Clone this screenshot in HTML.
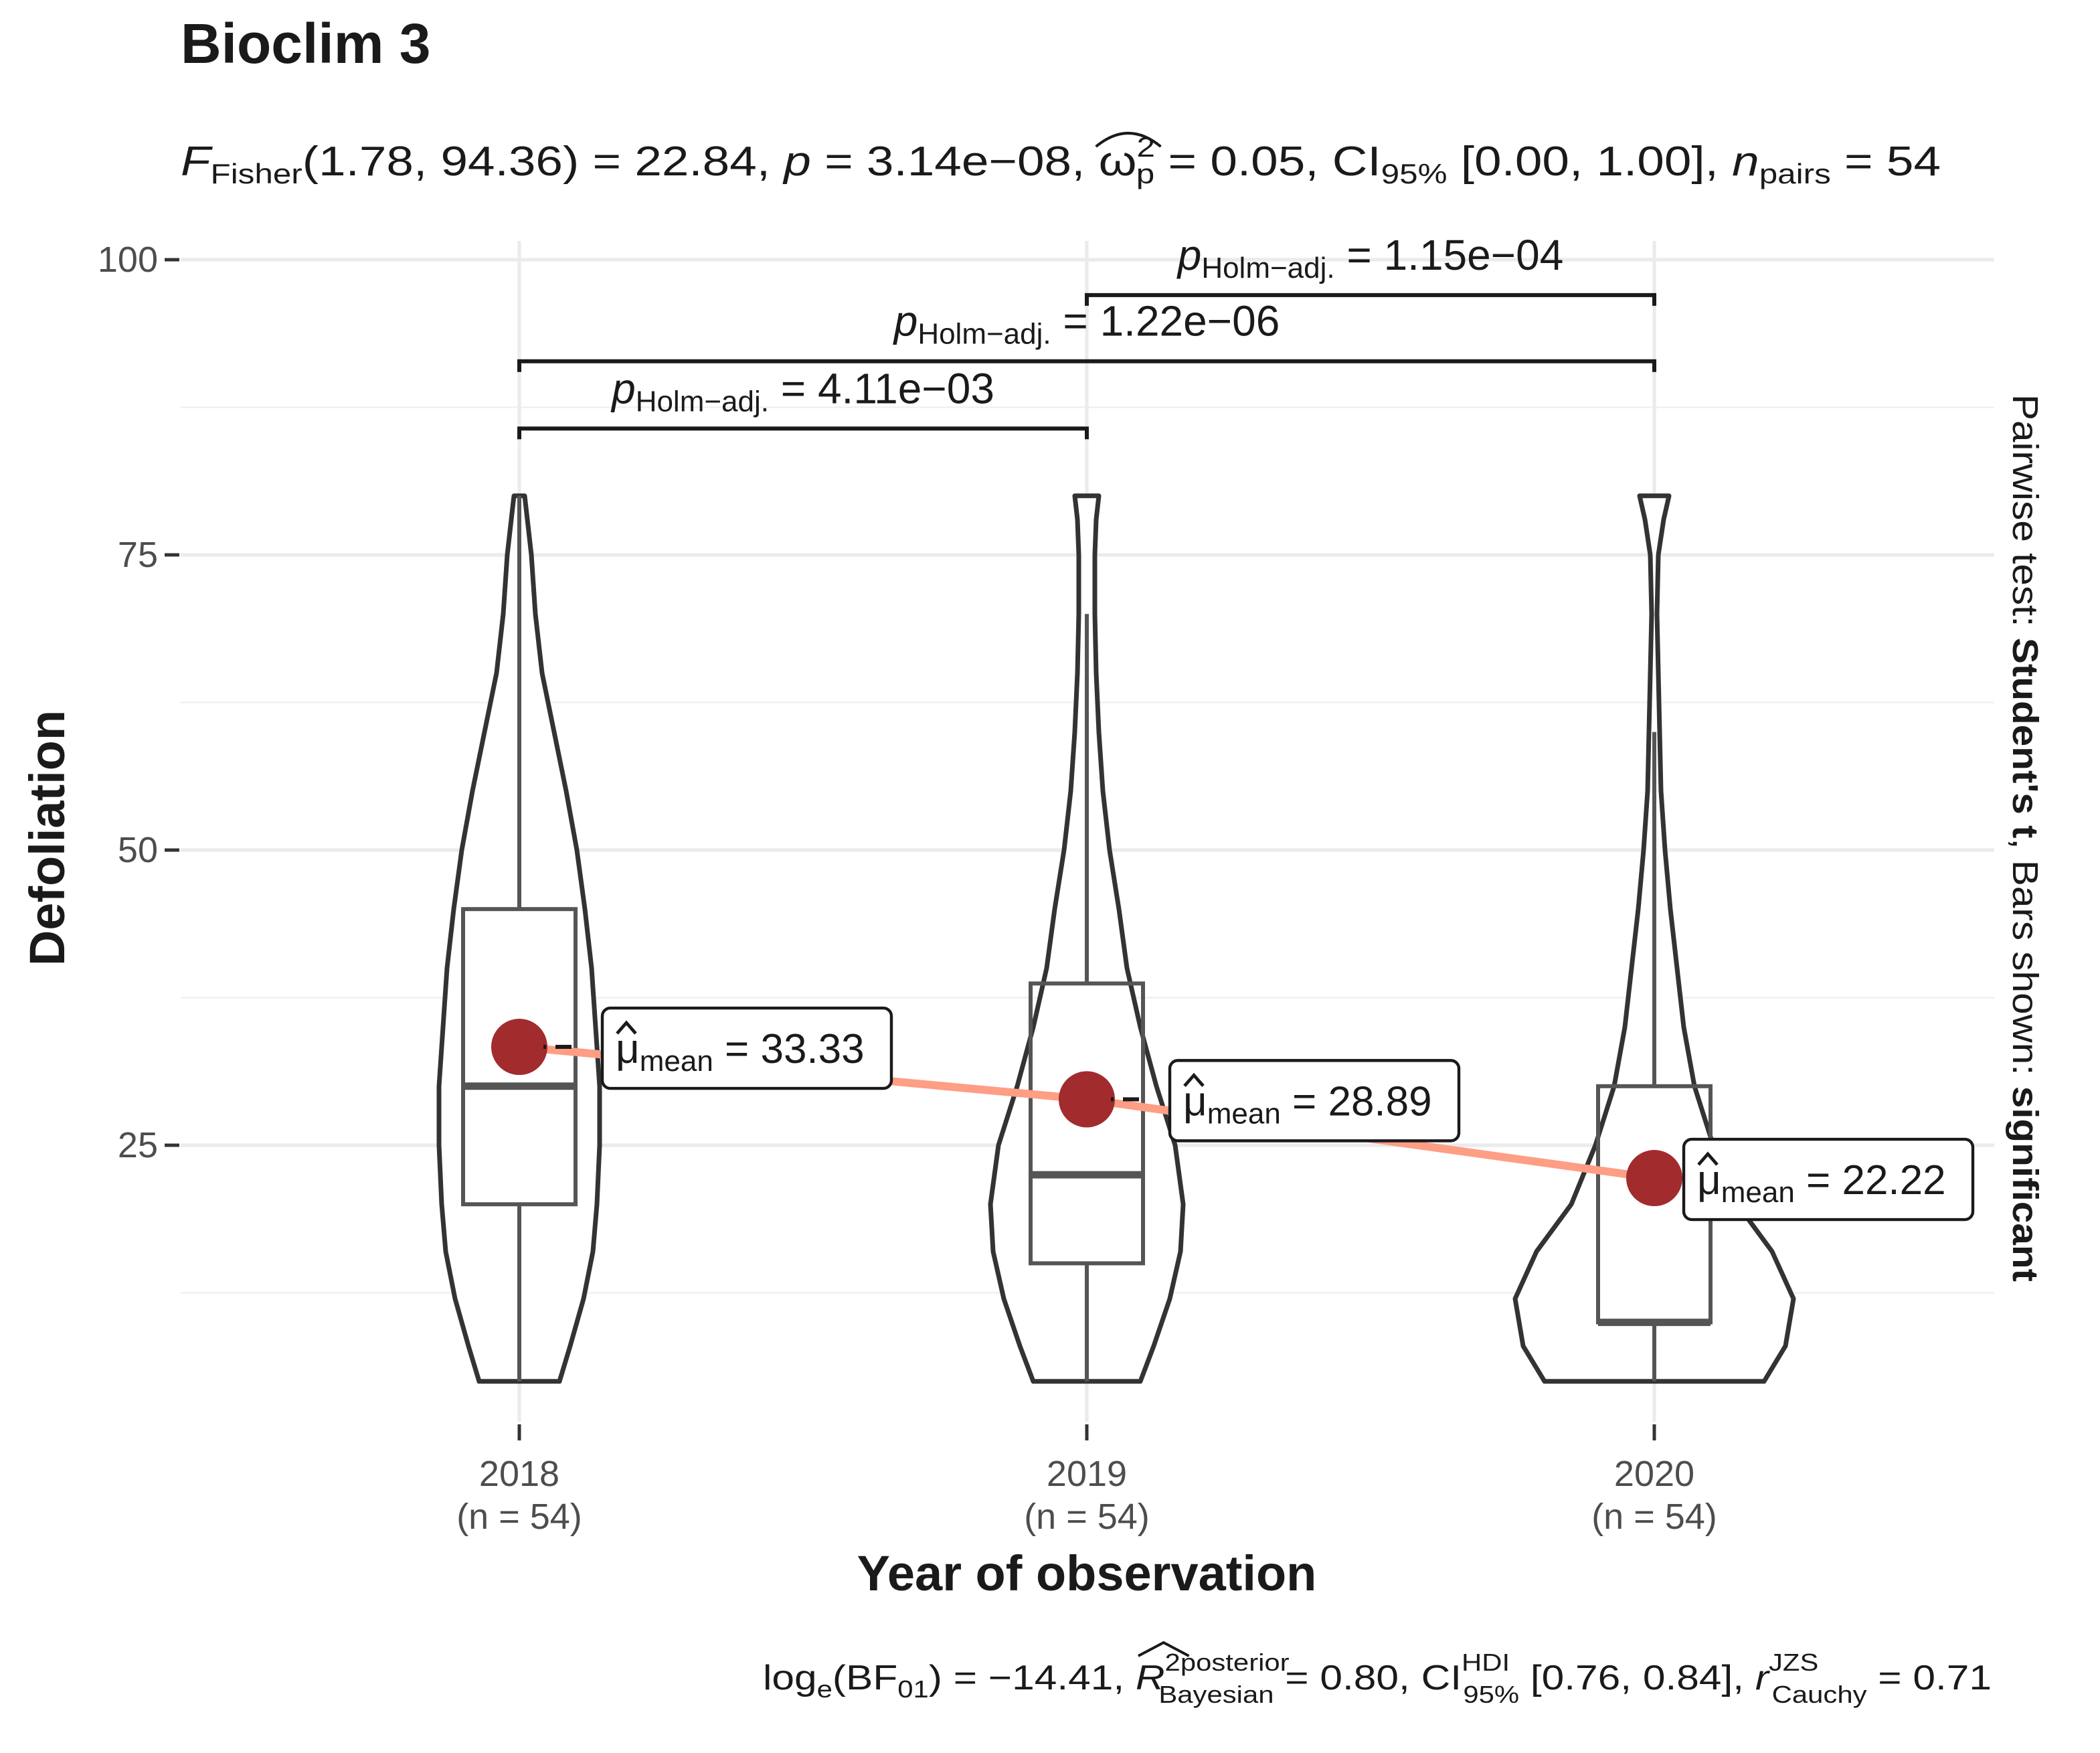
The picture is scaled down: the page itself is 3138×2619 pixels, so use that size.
<!DOCTYPE html>
<html><head><meta charset="utf-8">
<style>
html,body{margin:0;padding:0;background:#fff;}
svg{display:block;font-family:"Liberation Sans",Arial,sans-serif;}
</style></head>
<body>
<svg id="chart" width="3138" height="2619" viewBox="0 0 1569 1309.5" xmlns="http://www.w3.org/2000/svg">
<rect width="1569" height="1309.5" fill="#fff"/>
<text x="135" y="47" font-size="42" font-weight="bold" fill="#1a1a1a">Bioclim 3</text>
<text x="135" y="131" font-size="31" fill="#1a1a1a" textLength="1315" lengthAdjust="spacingAndGlyphs"><tspan font-style="italic">F</tspan><tspan font-size="21" dy="6">Fisher</tspan><tspan dy="-6">(1.78, 94.36) = 22.84, </tspan><tspan font-style="italic">p</tspan><tspan> = 3.14e−08, </tspan><tspan id="omega">ω</tspan><tspan font-size="21" dy="-14">2</tspan><tspan font-size="21" dy="20" dx="-12">p</tspan><tspan dy="-6"> = 0.05, CI</tspan><tspan font-size="21" dy="6">95%</tspan><tspan dy="-6"> [0.00, 1.00], </tspan><tspan font-style="italic">n</tspan><tspan font-size="21" dy="6">pairs</tspan><tspan dy="-6"> = 54</tspan></text>
<path id="omegahat" d="" fill="none" stroke="#1a1a1a" stroke-width="2"/>
<g id="grid"></g>
<g id="axes"></g>
<g id="marks"></g>
<text transform="translate(48,626) rotate(-90)" text-anchor="middle" font-size="37" font-weight="bold" fill="#1a1a1a">Defoliation</text>
<text x="812" y="1188" text-anchor="middle" font-size="37" font-weight="bold" fill="#1a1a1a">Year of observation</text>
<text transform="translate(1504,626) rotate(90)" text-anchor="middle" font-size="27" fill="#1a1a1a" textLength="663" lengthAdjust="spacingAndGlyphs">Pairwise test: <tspan font-weight="bold">Student's t</tspan>, Bars shown: <tspan font-weight="bold">significant</tspan></text>
<text x="570" y="1262" font-size="26" fill="#1a1a1a" textLength="918" lengthAdjust="spacingAndGlyphs">log<tspan font-size="18" dy="6">e</tspan><tspan dy="-6">(BF</tspan><tspan font-size="18" dy="6">01</tspan><tspan dy="-6">) = −14.41, </tspan><tspan id="rr" font-style="italic">R</tspan><tspan font-size="18" dy="-14">2</tspan><tspan font-size="18">posterior</tspan><tspan font-size="18" dy="24" dx="-84">Bayesian</tspan><tspan dy="-10"> = 0.80, CI</tspan><tspan font-size="18" dy="-14">HDI</tspan><tspan font-size="18" dy="24" dx="-30">95%</tspan><tspan dy="-10"> [0.76, 0.84], </tspan><tspan font-style="italic">r</tspan><tspan font-size="18" dy="-14">JZS</tspan><tspan font-size="18" dy="24" dx="-30">Cauchy</tspan><tspan dy="-10"> = 0.71</tspan></text>
<path id="rhat" d="" fill="none" stroke="#1a1a1a" stroke-width="2"/>
</svg>
<script>
const years = ["2018","2019","2020"];
const nLabels = ["(n = 54)","(n = 54)","(n = 54)"];
const means = [33.33, 28.89, 22.22];
const meanLabels = ["33.33","28.89","22.22"];
const q1 = [20, 15, 10];
const med = [30, 22.5, 10];
const q3 = [45, 38.7, 30];
const whiskLo = [5, 5, 5];
const whiskHi = [80, 70, 60];
const violinLevels = [5, 8, 12, 16, 20, 25, 30, 35, 40, 45, 50, 55, 60, 65, 70, 75, 78, 80];
const violin2018 = [30, 38, 48, 55, 58, 60, 60, 57, 54, 49, 43, 35, 26, 17, 12, 9, 6, 4];
const violin2019 = [40, 50, 62, 70, 72, 66, 52, 40, 30, 24, 17, 12, 9, 7, 6, 6, 7, 9];
const violin2020 = [82, 98, 104, 88, 62, 44, 30, 22, 17, 12, 8, 5, 4, 3, 2, 3, 7, 11];
const yTicks = [25, 50, 75, 100];
const yMinor = [12.5, 37.5, 62.5, 87.5];
const pairs = [[0,1],[0,2],[1,2]];
const pairBarVals = [85.7, 91.4, 97];
const pairLabels = ["4.11e−03","1.22e−06","1.15e−04"];

const NS="http://www.w3.org/2000/svg";
const yS = v => 194 + (100 - v) * 8.82;
const xS = i => 388 + i * 424;
const labelGap = [62, 62, 22];
const PX0 = 135, PX1 = 1490, PY1 = 1062;
function mk(parent, tag, attrs){ const e=document.createElementNS(NS,tag); for(const k in attrs) e.setAttribute(k,attrs[k]); parent.appendChild(e); return e; }
const grid=document.getElementById('grid'), axes=document.getElementById('axes'), marks=document.getElementById('marks');

yMinor.forEach(v=>{ const l=mk(grid,'line',{x1:PX0,x2:PX1,y1:yS(v),y2:yS(v),stroke:'#f0f0f0','stroke-width':1.3});

 });
yTicks.forEach(v=>{ const l=mk(grid,'line',{x1:PX0,x2:PX1,y1:yS(v),y2:yS(v),stroke:'#ebebeb','stroke-width':2.6});


const t=mk(axes,'line',{x1:123,x2:134,y1:yS(v),y2:yS(v),stroke:'#333','stroke-width':2.5});


const lb=mk(axes,'text',{x:118,y:yS(v)+9,'text-anchor':'end','font-size':27,fill:'#4d4d4d'}); lb.textContent=String(v);

 });
years.forEach((y,i)=>{ const x=xS(i);
const g=mk(grid,'line',{x1:x,x2:x,y1:180,y2:PY1,stroke:'#ebebeb','stroke-width':2.6});


const t=mk(axes,'line',{x1:x,x2:x,y1:1064,y2:1076,stroke:'#333','stroke-width':2.5});


const l1=mk(axes,'text',{x:x,y:1110,'text-anchor':'middle','font-size':27,fill:'#4d4d4d'}); l1.textContent=y;


const l2=mk(axes,'text',{x:x,y:1142,'text-anchor':'middle','font-size':27,fill:'#4d4d4d'}); l2.textContent=nLabels[i];

 });

[violin2018, violin2019, violin2020].forEach((w,i)=>{ const x=xS(i);
let d='M'+(x-w[0])+','+yS(violinLevels[0]);
for(let k=1;k<w.length;k++) d+=' L'+(x-w[k])+','+yS(violinLevels[k]);
for(let k=w.length-1;k>=0;k--) d+=' L'+(x+w[k])+','+yS(violinLevels[k]);
d+='Z';
const p=mk(marks,'path',{d:d,fill:'#fff',stroke:'#333','stroke-width':3.5,'stroke-linejoin':'round'});

 });
years.forEach((y,i)=>{ const x=xS(i), hw=42;
const wl=mk(marks,'line',{x1:x,x2:x,y1:yS(whiskHi[i]),y2:yS(q3[i]),stroke:'#555','stroke-width':3});


const wl2=mk(marks,'line',{x1:x,x2:x,y1:yS(q1[i]),y2:yS(whiskLo[i]),stroke:'#555','stroke-width':3});


const b=mk(marks,'rect',{x:x-hw,y:yS(q3[i]),width:2*hw,height:yS(q1[i])-yS(q3[i]),fill:'none',stroke:'#555','stroke-width':3});


const m=mk(marks,'line',{x1:x-hw,x2:x+hw,y1:yS(med[i]),y2:yS(med[i]),stroke:'#555','stroke-width':5.5});

 });
let md='';
means.forEach((v,i)=>{ md+=(i?' L':'M')+xS(i)+','+yS(v); });
const ml=mk(marks,'path',{d:md,fill:'none',stroke:'#fd9e85','stroke-width':6});


means.forEach((v,i)=>{ const x=xS(i), y=yS(v);
const c=mk(marks,'circle',{cx:x,cy:y,r:21,fill:'#a22b2e'});


const bx=x+labelGap[i], by=y-29;
if(labelGap[i]>40){
const s=mk(marks,'line',{x1:x+18,x2:x+46,y1:y,y2:y,stroke:'#1a1a1a','stroke-width':3,'stroke-dasharray':'2 7 12 10'});

}
const r=mk(marks,'rect',{x:bx,y:by,width:216,height:60,rx:6,fill:'#fff',stroke:'#1a1a1a','stroke-width':2.2});


const t=mk(marks,'text',{x:bx+10,y:by+41,'font-size':31,fill:'#1a1a1a'});
t.innerHTML='μ<tspan font-size="22" dy="6">mean</tspan><tspan dy="-6"> = '+meanLabels[i]+'</tspan>';


const h=mk(marks,'path',{d:'M'+(bx+11)+','+(by+19)+' L'+(bx+18)+','+(by+11)+' L'+(bx+25)+','+(by+19),fill:'none',stroke:'#1a1a1a','stroke-width':2.4});

 });
pairs.forEach((p,k)=>{ const x1=xS(p[0]), x2=xS(p[1]), y=yS(pairBarVals[k]);
const b=mk(marks,'path',{d:'M'+x1+','+(y+8)+' L'+x1+','+y+' L'+x2+','+y+' L'+x2+','+(y+8),fill:'none',stroke:'#1a1a1a','stroke-width':3});


const t=mk(marks,'text',{x:(x1+x2)/2,y:y-19,'text-anchor':'middle','font-size':32,fill:'#1a1a1a'});
t.innerHTML='<tspan font-style="italic">p</tspan><tspan font-size="22" dy="6">Holm−adj.</tspan><tspan dy="-6"> = '+pairLabels[k]+'</tspan>';

 });
try{
const ob=document.getElementById('omega').getBBox();
document.getElementById('omegahat').setAttribute('d','M'+(ob.x-2)+','+(ob.y+6)+' Q'+(ob.x+ob.width/2+8)+','+(ob.y-14)+' '+(ob.x+ob.width+18)+','+(ob.y+6));
const rb=document.getElementById('rr').getBBox();
document.getElementById('rhat').setAttribute('d','M'+(rb.x+2)+','+(rb.y-2)+' L'+(rb.x+rb.width/2+10)+','+(rb.y-12)+' L'+(rb.x+rb.width+18)+','+(rb.y-2));
}catch(e){}
</script>
</body></html>
